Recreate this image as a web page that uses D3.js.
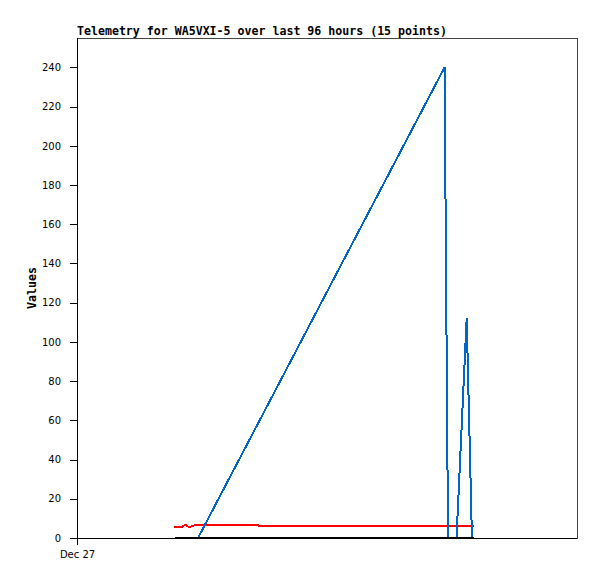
<!DOCTYPE html>
<html><head><meta charset="utf-8">
<script src="https://cdn.jsdelivr.net/npm/d3@7/dist/d3.min.js"></script>
<style>body{margin:0;background:#fff}svg{display:block}</style>
</head><body>
<svg id="chart" width="597" height="579"></svg>
<script>
const titleText = "Telemetry for WA5VXI-5 over last 96 hours (15 points)";
const yLabel = "Values";
const xDomain = ["2024-12-27 00:00", "2024-12-31 00:00"];
const xTickDates = ["2024-12-27 00:00"];
const xTickLabels = ["Dec 27"];
const yTicks = [0,20,40,60,80,100,120,140,160,180,200,220,240];
const yMax = 255;

const redTimes = ["2024-12-27 18:37","2024-12-27 20:10","2024-12-27 20:44","2024-12-27 21:19","2024-12-27 21:53","2024-12-27 22:40","2024-12-28 10:45","2024-12-28 11:08","2024-12-30 04:13"];
const redValues = [5.6,5.6,6.8,5.8,5.8,6.5,6.5,5.9,5.9];
const blueTimes = ["2024-12-27 23:14","2024-12-29 22:34","2024-12-29 23:14","2024-12-30 00:52","2024-12-30 02:49","2024-12-30 03:50"];
const blueValues = [0,240,0,0,112,0];
const blackTimes = ["2024-12-27 18:49","2024-12-30 04:13"];
const blackValues = [0,0];

const parse = d3.timeParse("%Y-%m-%d %H:%M");
const svg = d3.select("#chart");
const L = 77, R = 577, T = 38, B = 538;
const x = d3.scaleTime().domain(xDomain.map(parse)).range([L, R]);
const y = d3.scaleLinear().domain([0, yMax]).range([B, T]);

svg.append("rect").attr("x", L).attr("y", T).attr("width", R - L).attr("height", B - T)
  .attr("fill", "none").attr("stroke", "#444").attr("stroke-width", 1).attr("shape-rendering", "crispEdges");

const line = d3.line().x(d => x(d[0])).y(d => y(d[1]));
function series(times, vals, color) {
  svg.append("path").datum(times.map((t, i) => [parse(t), vals[i]]))
    .attr("d", line).attr("fill", "none").attr("stroke", color).attr("stroke-width", 2)
    .attr("shape-rendering", "crispEdges");
}
series(redTimes, redValues, "#ff0000");
series(blueTimes, blueValues, "#0066cc");
series(blackTimes, blackValues, "#000000");

const yAxis = svg.append("g").attr("transform", `translate(${L},0)`)
  .call(d3.axisLeft(y).tickValues(yTicks).tickSize(7).tickPadding(9).tickSizeOuter(0));
const xAxis = svg.append("g").attr("transform", `translate(0,${B})`)
  .call(d3.axisBottom(x).tickValues(xTickDates.map(parse)).tickFormat((d, i) => xTickLabels[i]).tickSize(7).tickPadding(6).tickSizeOuter(0));
[yAxis, xAxis].forEach(g => {
  g.selectAll("path,line").attr("stroke", "#000").attr("shape-rendering", "crispEdges");
  g.selectAll("text").attr("font-family", "DejaVu Sans").attr("font-size", "10px").attr("fill", "#000");
});
yAxis.select(".domain").attr("d", `M0,${T}V${B}`);
xAxis.select(".domain").attr("d", `M${L},0H${R}`);

svg.append("text").attr("x", L).attr("y", 35).text(titleText)
  .attr("font-family", "DejaVu Sans Mono").attr("font-weight", "bold").attr("font-size", "11.6px");
svg.append("text").attr("transform", `translate(36,288) rotate(-90)`).attr("text-anchor", "middle")
  .text(yLabel).attr("font-family", "DejaVu Sans Mono").attr("font-weight", "bold").attr("font-size", "11.6px");
</script>
</body></html>
